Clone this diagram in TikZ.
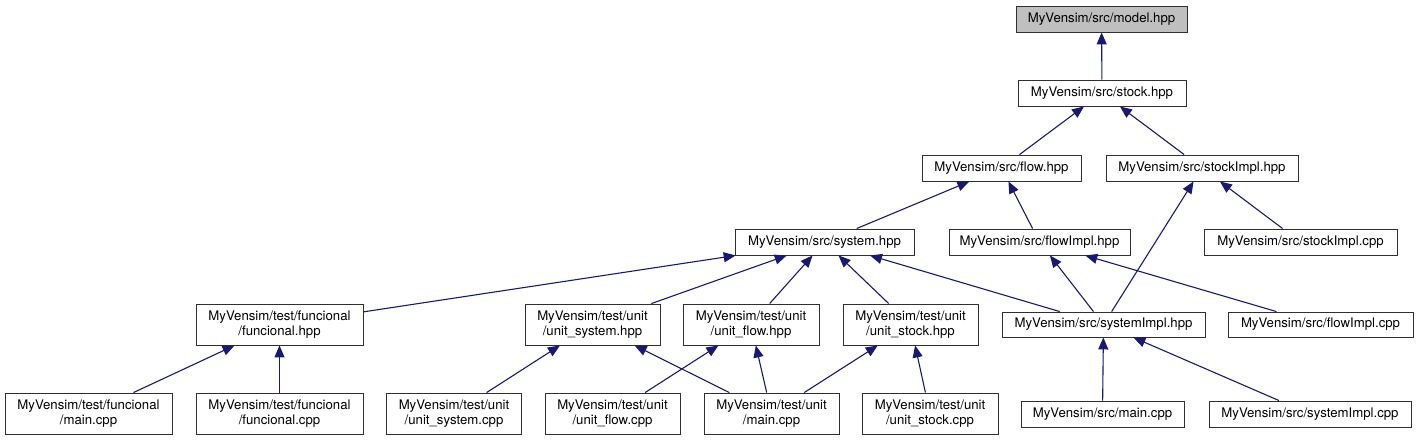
\documentclass[tikz,border=0pt]{standalone}
\usepackage{fontspec}
\setmainfont{TeX Gyre Heros}
\usepackage{tikz}
\usetikzlibrary{arrows.meta}
\definecolor{edgeblue}{HTML}{191970}
\definecolor{boxline}{HTML}{303030}
\definecolor{rootgray}{HTML}{BFBFBF}
\tikzstyle{filebox} = [rectangle, draw=boxline, line width=0.9pt, inner sep=0pt, minimum height=26pt,
  align=center, font=\fontsize{13.2}{14.5}\selectfont]
\tikzstyle{twobox} = [filebox, minimum height=41pt]
\tikzstyle{rootbox} = [filebox, fill=rootgray]
\tikzstyle{arrow} = [edgeblue, line width=1.1pt, -{Triangle[length=12pt,width=10pt]}]

\begin{document}
\begin{tikzpicture}[x=1pt, y=-1pt]
  \useasboundingbox (0,0) rectangle (1418,440);

  % headers in src
  \node (model) [rootbox, minimum width=171pt] at (1101.5,19) {MyVensim/src/model.hpp};
  \node (stock) [filebox, minimum width=168pt] at (1102,93) {MyVensim/src/stock.hpp};
  \node (flow) [filebox, minimum width=159pt] at (1001.5,168) {MyVensim/src/flow.hpp};
  \node (stockimpl) [filebox, minimum width=192pt] at (1202,168) {MyVensim/src/stockImpl.hpp};
  \node (system) [filebox, minimum width=179pt] at (824.5,242) {MyVensim/src/system.hpp};
  \node (flowimpl) [filebox, minimum width=181pt] at (1039.5,242) {MyVensim/src/flowImpl.hpp};
  \node (stockimplcpp) [filebox, minimum width=193pt] at (1300.5,242) {MyVensim/src/stockImpl.cpp};

  % test headers and systemImpl
  \node (funchpp) [twobox, minimum width=167pt] at (279.5,324.5) {MyVensim/test/funcional\\/funcional.hpp};
  \node (usyshpp) [twobox, minimum width=135pt] at (592.5,324.5) {MyVensim/test/unit\\/unit\_system.hpp};
  \node (uflowhpp) [twobox, minimum width=136pt] at (751,324.5) {MyVensim/test/unit\\/unit\_flow.hpp};
  \node (ustockhpp) [twobox, minimum width=135pt] at (910.5,324.5) {MyVensim/test/unit\\/unit\_stock.hpp};
  \node (sysimpl) [filebox, minimum width=203pt, minimum height=25pt] at (1103.5,324.5) {MyVensim/src/systemImpl.hpp};
  \node (flowimplcpp) [filebox, minimum width=185pt, minimum height=25pt] at (1320.5,324.5) {MyVensim/src/flowImpl.cpp};

  % sources
  \node (fmain) [twobox, minimum width=167pt] at (88.5,413.5) {MyVensim/test/funcional\\/main.cpp};
  \node (fcpp) [twobox, minimum width=167pt] at (279.5,413.5) {MyVensim/test/funcional\\/funcional.cpp};
  \node (usyscpp) [twobox, minimum width=135pt] at (454,413.5) {MyVensim/test/unit\\/unit\_system.cpp};
  \node (uflowcpp) [twobox, minimum width=135pt] at (612.5,413.5) {MyVensim/test/unit\\/unit\_flow.cpp};
  \node (umain) [twobox, minimum width=135pt] at (771.5,413.5) {MyVensim/test/unit\\/main.cpp};
  \node (ustockcpp) [twobox, minimum width=136pt] at (930,413.5) {MyVensim/test/unit\\/unit\_stock.cpp};
  \node (srcmain) [filebox, minimum width=163pt] at (1102.5,414) {MyVensim/src/main.cpp};
  \node (sysimplcpp) [filebox, minimum width=202pt] at (1310,414) {MyVensim/src/systemImpl.cpp};

  \draw[arrow] (stock) -- (model);
  \draw[arrow] (flow) -- (stock);
  \draw[arrow] (stockimpl) -- (stock);
  \draw[arrow] (system) -- (flow);
  \draw[arrow] (flowimpl) -- (flow);
  \draw[arrow] (sysimpl) -- (stockimpl);
  \draw[arrow] (stockimplcpp) -- (stockimpl);
  \draw[arrow] (funchpp) -- (system);
  \draw[arrow] (usyshpp) -- (system);
  \draw[arrow] (uflowhpp) -- (system);
  \draw[arrow] (ustockhpp) -- (system);
  \draw[arrow] (sysimpl) -- (system);
  \draw[arrow] (sysimpl) -- (flowimpl);
  \draw[arrow] (flowimplcpp) -- (flowimpl);
  \draw[arrow] (fmain) -- (funchpp);
  \draw[arrow] (fcpp) -- (funchpp);
  \draw[arrow] (usyscpp) -- (usyshpp);
  \draw[arrow] (umain) -- (usyshpp);
  \draw[arrow] (uflowcpp) -- (uflowhpp);
  \draw[arrow] (umain) -- (uflowhpp);
  \draw[arrow] (umain) -- (ustockhpp);
  \draw[arrow] (ustockcpp) -- (ustockhpp);
  \draw[arrow] (srcmain) -- (sysimpl);
  \draw[arrow] (sysimplcpp) -- (sysimpl);
\end{tikzpicture}
\end{document}
